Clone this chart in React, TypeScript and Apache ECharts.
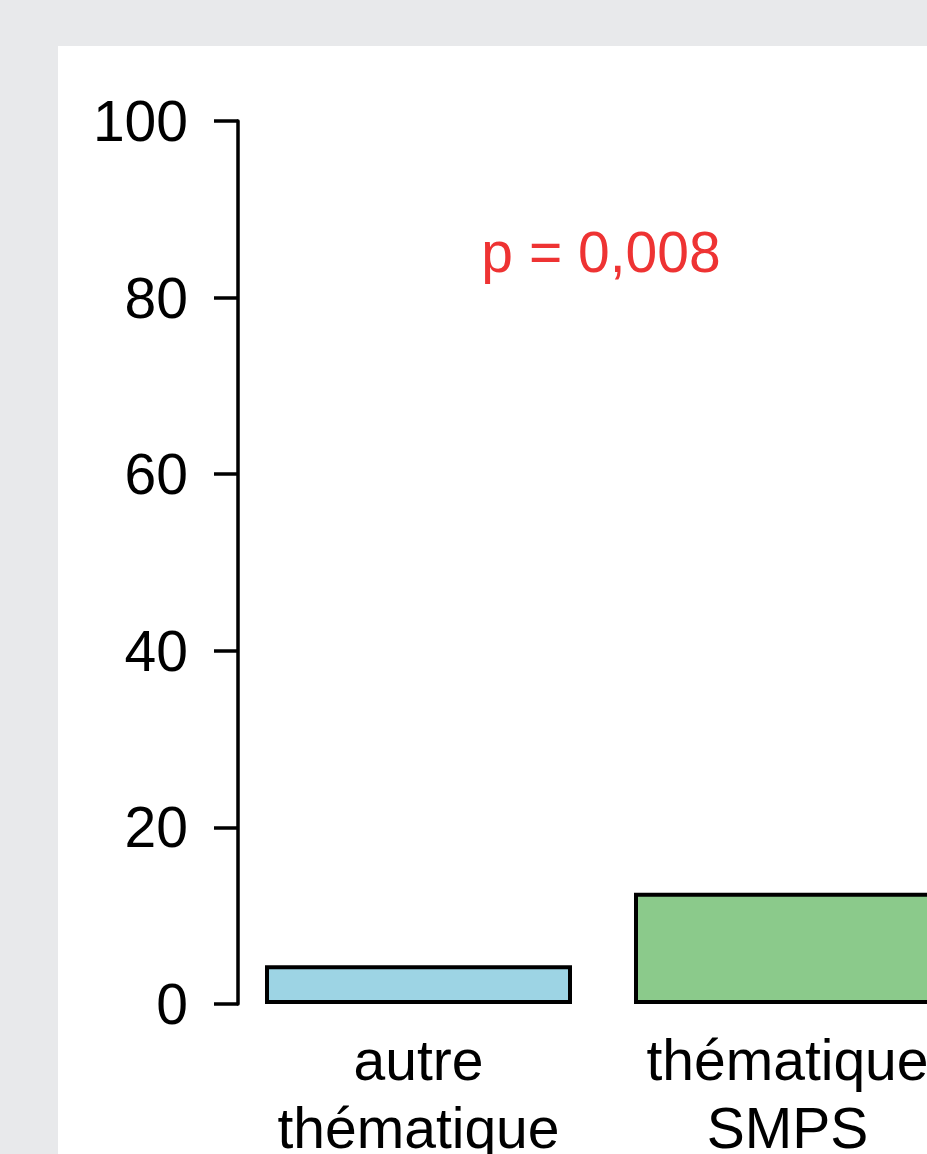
import React, { useEffect, useRef } from "react";
import * as echarts from "echarts";

const categories = ["autre\nthématique", "thématique\nSMPS"];
const values = [4.4, 12.6];
const barColors = ["#9DD4E4", "#8BCA8B"];
const yTicks = [0, 20, 40, 60, 80, 100];
const pText = "p = 0,008";

export default function App() {
  const ref = useRef<HTMLDivElement>(null);
  useEffect(() => {
    if (!ref.current) return;
    const chart = echarts.init(ref.current, null, { renderer: "svg" });
    const font = "'Liberation Sans', Arial, sans-serif";
    chart.setOption({
      animation: false,
      backgroundColor: "#E8E9EB",
      graphic: [
        {
          type: "rect",
          z: -10,
          shape: { x: 58, y: 46, width: 900, height: 1200 },
          style: { fill: "#FFFFFF" },
          silent: true,
        },
        {
          type: "text",
          x: 601,
          y: 252,
          style: {
            text: pText,
            fill: "#EE3333",
            font: `57px ${font}`,
            textAlign: "center",
            textVerticalAlign: "middle",
          },
        },
      ],
      grid: {
        left: 234,
        top: 121,
        bottom: 150,
        width: 738,
        containLabel: false,
        outerBoundsMode: "none",
      },
      xAxis: {
        type: "category",
        data: categories,
        axisLine: { show: false },
        axisTick: { show: false },
        axisLabel: {
          margin: 22,
          fontSize: 57,
          lineHeight: 68,
          fontFamily: font,
          color: "#000",
          interval: 0,
        },
      },
      yAxis: {
        type: "value",
        min: yTicks[0],
        max: yTicks[yTicks.length - 1],
        interval: 20,
        offset: -4,
        splitLine: { show: false },
        axisLine: { show: true, lineStyle: { color: "#000", width: 3.5 } },
        axisTick: { show: true, inside: false, length: 24, lineStyle: { color: "#000", width: 3.5 } },
        axisLabel: {
          margin: 50,
          fontSize: 57,
          fontFamily: font,
          color: "#000",
          padding: [9, 0, 0, 0],
        },
      },
      series: [
        {
          type: "bar",
          barWidth: 307,
          data: values.map((v, i) => ({
            value: v,
            itemStyle: { color: barColors[i], borderColor: "#000", borderWidth: 4 },
          })),
        },
      ],
    });
    return () => chart.dispose();
  }, []);
  return (
    <div
      ref={ref}
      style={{ position: "absolute", left: 0, top: 0, width: 927, height: 1154 }}
    />
  );
}
